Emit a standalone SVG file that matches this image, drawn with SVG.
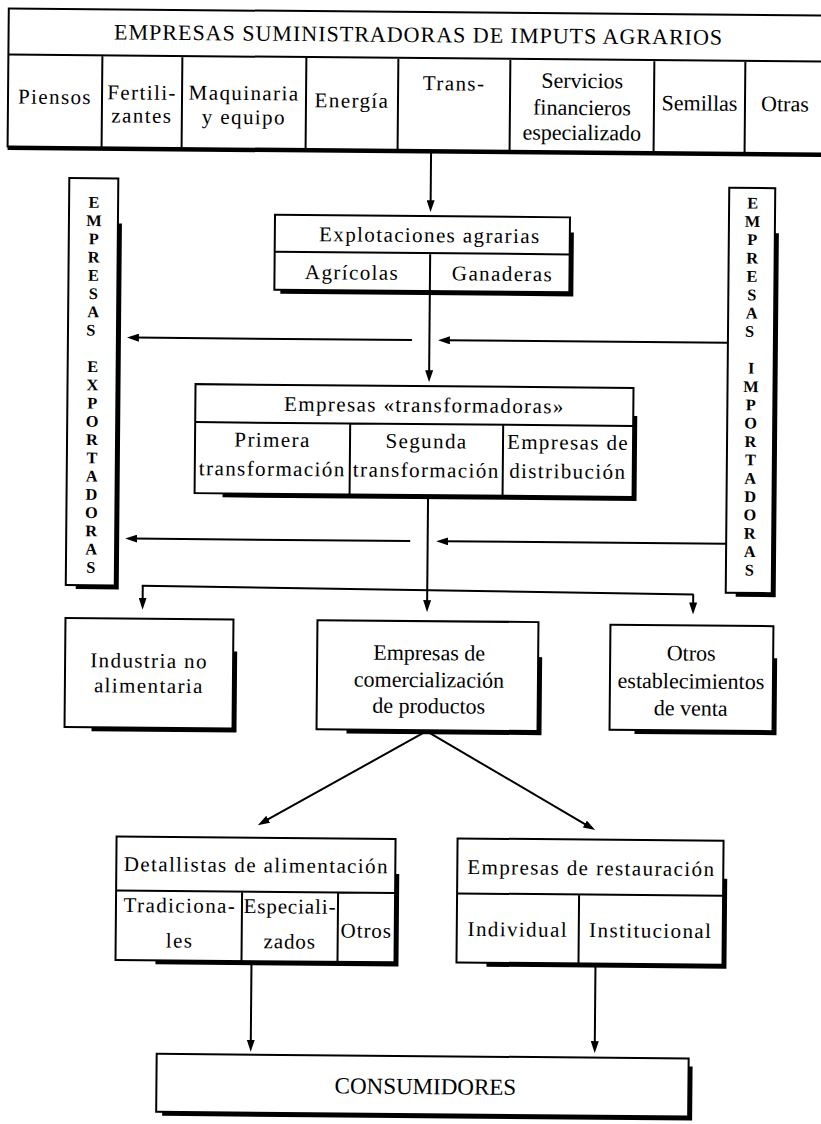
<svg xmlns="http://www.w3.org/2000/svg" width="821" height="1124" viewBox="0 0 821 1124">
<style>
.box{fill:#fff;stroke:#000;stroke-width:2}
.dv{stroke:#000;stroke-width:2;fill:none}
.sh{fill:#000}
.ln{stroke:#000;stroke-width:2;fill:none;marker-end:url(#ah)}
.pl{stroke:#000;stroke-width:2;fill:none}
.t{font-family:"Liberation Serif","Times New Roman",serif;font-size:22px;letter-spacing:1px;text-anchor:middle;fill:#000}
.w{font-family:"Liberation Serif","Times New Roman",serif;font-size:21px;letter-spacing:1.4px;text-anchor:middle;fill:#000}
.ws{letter-spacing:0.9px}
.n{font-family:"Liberation Serif","Times New Roman",serif;font-size:22px;text-anchor:middle;fill:#000}
.c{font-family:"Liberation Serif","Times New Roman",serif;font-size:23px;text-anchor:middle;fill:#000}
.v{font-family:"Liberation Serif","Times New Roman",serif;font-size:16.3px;font-weight:bold;text-anchor:middle;fill:#000}
</style>
<defs>
<marker id="ah" markerWidth="12" markerHeight="8" refX="4" refY="4" orient="auto" markerUnits="userSpaceOnUse"><path d="M0,0 L12,4 L0,8 z" fill="#000"/></marker>
</defs>
<rect width="821" height="1124" fill="#fff"/>
<g transform="rotate(0.5 410 560)">
<g id="connectors">
<path class="ln" d="M427.5 150 V204"/>
<path class="ln" d="M427.5 291 V374"/>
<path class="ln" d="M427.5 495 V604"/>
<path class="ln" d="M410 340 H133"/>
<path class="ln" d="M726 340 H444"/>
<path class="ln" d="M410 541 H133"/>
<path class="ln" d="M726 541 H444"/>
<path class="pl" d="M142 588 L694 592"/>
<path class="ln" d="M143 588 V604"/>
<path class="ln" d="M693.5 592 V604"/>
<path class="ln" d="M428 731 L267 822.5"/>
<path class="ln" d="M428 731 L590.6 824.5"/>
<path class="ln" d="M255 962.5 V1045"/>
<path class="ln" d="M599 962 V1043.5"/>
</g>
<g id="banner">
<rect class="box" x="4" y="12" width="830" height="138"/>
<rect class="sh" x="4" y="150" width="830" height="3.5"/>
<path class="dv" d="M4 58 H834 M98 58 V150 M178 58 V150 M302 58 V150 M394 58 V150 M506 58 V150 M650 58 V150 M741 58 V150"/>
<text class="t" x="414" y="42">EMPRESAS SUMINISTRADORAS DE IMPUTS AGRARIOS</text>
<text class="w" x="51" y="107">Piensos</text>
<text class="w" x="138" y="102">Fertili-</text>
<text class="w" x="138" y="125">zantes</text>
<text class="w" x="240" y="101.5">Maquinaria</text>
<text class="w" x="240" y="125.5">y equipo</text>
<text class="w" x="348" y="108">Energía</text>
<text class="w" x="450" y="90">Trans-</text>
<text class="n" x="578" y="86.5">Servicios</text>
<text class="n" x="578" y="113.5">financieros</text>
<text class="n" x="578" y="138.5">especializado</text>
<text class="n" x="695.5" y="108">Semillas</text>
<text class="n" x="781" y="108">Otras</text>
</g>
<g id="exportadoras">
<path class="sh" d="M115 226 H119 V592 H76 V588 H115 Z"/>
<rect class="box" x="66" y="181" width="49" height="407"/>
<text class="v"><tspan x="91" y="210.5">E</tspan><tspan x="91" y="228.75">M</tspan><tspan x="91" y="247">P</tspan><tspan x="91" y="265.25">R</tspan><tspan x="91" y="283.5">E</tspan><tspan x="91" y="301.75">S</tspan><tspan x="91" y="320">A</tspan><tspan x="91" y="338.25">S</tspan> <tspan x="91" y="374.75">E</tspan><tspan x="91" y="393">X</tspan><tspan x="91" y="411.25">P</tspan><tspan x="91" y="429.5">O</tspan><tspan x="91" y="447.75">R</tspan><tspan x="91" y="466">T</tspan><tspan x="91" y="484.25">A</tspan><tspan x="91" y="502.5">D</tspan><tspan x="91" y="520.75">O</tspan><tspan x="91" y="539">R</tspan><tspan x="91" y="557.25">A</tspan><tspan x="91" y="575.5">S</tspan></text>
</g>
<g id="importadoras">
<path class="sh" d="M772 230 H776 V594 H736 V590 H772 Z"/>
<rect class="box" x="726" y="185" width="46" height="405"/>
<text class="v"><tspan x="749.5" y="205.5">E</tspan><tspan x="749.5" y="223.85">M</tspan><tspan x="749.5" y="242.2">P</tspan><tspan x="749.5" y="260.55">R</tspan><tspan x="749.5" y="278.9">E</tspan><tspan x="749.5" y="297.25">S</tspan><tspan x="749.5" y="315.6">A</tspan><tspan x="749.5" y="333.95">S</tspan> <tspan x="749.5" y="370.65">I</tspan><tspan x="749.5" y="389">M</tspan><tspan x="749.5" y="407.35">P</tspan><tspan x="749.5" y="425.7">O</tspan><tspan x="749.5" y="444.05">R</tspan><tspan x="749.5" y="462.4">T</tspan><tspan x="749.5" y="480.75">A</tspan><tspan x="749.5" y="499.1">D</tspan><tspan x="749.5" y="517.45">O</tspan><tspan x="749.5" y="535.8">R</tspan><tspan x="749.5" y="554.15">A</tspan><tspan x="749.5" y="572.5">S</tspan></text>
</g>
<g id="explotaciones">
<path class="sh" d="M567 231 H571 V295 H278 V291 H567 Z"/>
<rect class="box" x="272" y="216" width="295" height="75"/>
<path class="dv" d="M272 253 H567 M427.5 253 V291"/>
<text class="w" x="427" y="242">Explotaciones agrarias</text>
<text class="w" x="349.5" y="280">Agrícolas</text>
<text class="w" x="500" y="280">Ganaderas</text>
</g>
<g id="transformadoras">
<path class="sh" d="M632 414 H636 V499 H222 V495 H632 Z"/>
<rect class="box" x="194" y="386" width="438" height="109"/>
<path class="dv" d="M194 424 H632 M349 424 V495 M502 424 V495"/>
<text class="w" x="423" y="412">Empresas «transformadoras»</text>
<text class="w" x="271.5" y="448">Primera</text>
<text class="w" x="271.5" y="477">transformación</text>
<text class="w" x="425.5" y="448">Segunda</text>
<text class="w" x="425.5" y="477">transformación</text>
<text class="w" x="567" y="448">Empresas de</text>
<text class="w" x="567" y="477">distribución</text>
</g>
<g id="industria">
<path class="sh" d="M234 653 H238 V734 H93 V730 H234 Z"/>
<rect class="box" x="66" y="621" width="168" height="109"/>
<text class="w" x="150" y="670">Industria no</text>
<text class="w" x="150" y="695">alimentaria</text>
</g>
<g id="comercializacion">
<path class="sh" d="M539 656 H543 V734 H348 V730 H539 Z"/>
<rect class="box" x="318" y="621" width="221" height="109"/>
<text class="n" x="430" y="660">Empresas de</text>
<text class="n" x="430" y="687">comercialización</text>
<text class="n" x="430" y="713">de productos</text>
</g>
<g id="otros-establecimientos">
<path class="sh" d="M774 655 H778 V732 H636 V728 H774 Z"/>
<rect class="box" x="611" y="623" width="163" height="105"/>
<text class="n" x="692" y="658">Otros</text>
<text class="n" x="692" y="686">establecimientos</text>
<text class="n" x="692" y="713">de venta</text>
</g>
<g id="detallistas">
<path class="sh" d="M398 874 H402 V966.5 H159 V962.5 H398 Z"/>
<rect class="box" x="119" y="839" width="279" height="123.5"/>
<path class="dv" d="M119 893 H398 M245 893 V962.5 M341 893 V962.5"/>
<text class="w" x="259" y="873.5">Detallistas de alimentación</text>
<text class="w" x="183" y="914.5">Tradiciona-</text>
<text class="w" x="183" y="949.5">les</text>
<text class="w ws" x="293" y="914.5">Especiali-</text>
<text class="w ws" x="293" y="949.5">zados</text>
<text class="w ws" x="369.5" y="938">Otros</text>
</g>
<g id="restauracion">
<path class="sh" d="M726 876 H730 V966 H490 V962 H726 Z"/>
<rect class="box" x="460" y="838" width="266" height="124"/>
<path class="dv" d="M460 893 H726 M582 893 V962"/>
<text class="w" x="594" y="873.5">Empresas de restauración</text>
<text class="w" x="521" y="935.5">Individual</text>
<text class="w" x="654" y="935.5">Institucional</text>
</g>
<g id="consumidores">
<path class="sh" d="M693 1064 H697 V1118 H167 V1114 H693 Z"/>
<rect class="box" x="161" y="1056" width="532" height="58"/>
<text class="c" x="430" y="1094">CONSUMIDORES</text>
</g>
</g>
</svg>
